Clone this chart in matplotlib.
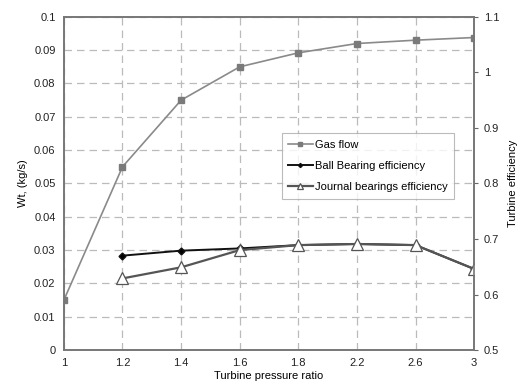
import numpy as np
import matplotlib.pyplot as plt

plt.rcParams["font.family"] = ["Liberation Sans", "DejaVu Sans"]
plt.rcParams["font.size"] = 8

# data
pressure_ratio = ["1", "1.2", "1.4", "1.6", "1.8", "2.2", "2.6", "3"]
gas_flow = [0.015, 0.055, 0.075, 0.085, 0.0892, 0.092, 0.093, 0.0938]
ball_eff = [np.nan, 0.670, 0.679, 0.683, 0.689, 0.691, 0.689, 0.646]
journal_eff = [np.nan, 0.629, 0.649, 0.680, 0.689, 0.691, 0.689, 0.646]

x = np.arange(len(pressure_ratio))

fig = plt.figure(figsize=(5.28, 3.92), dpi=100)
ax = fig.add_axes([0.121, 0.107, 0.777, 0.850])
ax2 = ax.twinx()

grid_kw = dict(color="#bbbbbb", linestyle=(0, (6, 4)), linewidth=0.9)
ax.set_axisbelow(True)
ax.grid(True, **grid_kw)

l1, = ax.plot(x, gas_flow, color="#8a8a8a", linewidth=1.2, marker="s",
              markersize=5, markerfacecolor="#7a7a7a", markeredgecolor="#7a7a7a",
              label="Gas flow")
l2, = ax2.plot(x, ball_eff, color="#111111", linewidth=1.4, marker="D",
               markersize=3.5, markerfacecolor="black", label="Ball Bearing efficiency")
l3, = ax2.plot(x, journal_eff, color="#555555", linewidth=1.6, marker="^",
               markersize=8, markerfacecolor="white", markeredgecolor="#555555",
               markeredgewidth=0.9, label="Journal bearings efficiency")

ax.set_xlim(0, len(x) - 1)
ax.set_xticks(x)
ax.set_xticklabels(pressure_ratio)
ax.set_ylim(0, 0.1)
ax.set_yticks(np.linspace(0, 0.1, 11))
ax.set_yticklabels(["0", "0.01", "0.02", "0.03", "0.04", "0.05", "0.06",
                    "0.07", "0.08", "0.09", "0.1"])
ax2.set_ylim(0.5, 1.1)
ax2.set_yticks(np.linspace(0.5, 1.1, 7))
ax2.set_yticklabels(["0.5", "0.6", "0.7", "0.8", "0.9", "1", "1.1"])

ax.tick_params(axis="both", length=0, pad=6, colors="#222222")
ax2.tick_params(axis="y", length=3, direction="out", pad=4, colors="#222222",
                color="#666666")

for a in (ax, ax2):
    for s in a.spines.values():
        s.set_color("#777777")
        s.set_linewidth(1.2)

ax.set_xlabel("Turbine pressure ratio", labelpad=2)
ax.set_ylabel("Wt, (kg/s)", labelpad=4)
ax2.set_ylabel("Turbine efficiency", labelpad=6)

leg = ax.legend(handles=[l1, l2, l3], loc="upper left",
                bbox_to_anchor=(0.517, 0.668), frameon=True, fancybox=False,
                edgecolor="#aaaaaa", handlelength=2.2, handletextpad=0.2,
                labelspacing=1.0, borderpad=0.6, fontsize=8, markerscale=0.6)
leg.get_frame().set_linewidth(0.8)

fig.savefig("out.png", dpi=100)
